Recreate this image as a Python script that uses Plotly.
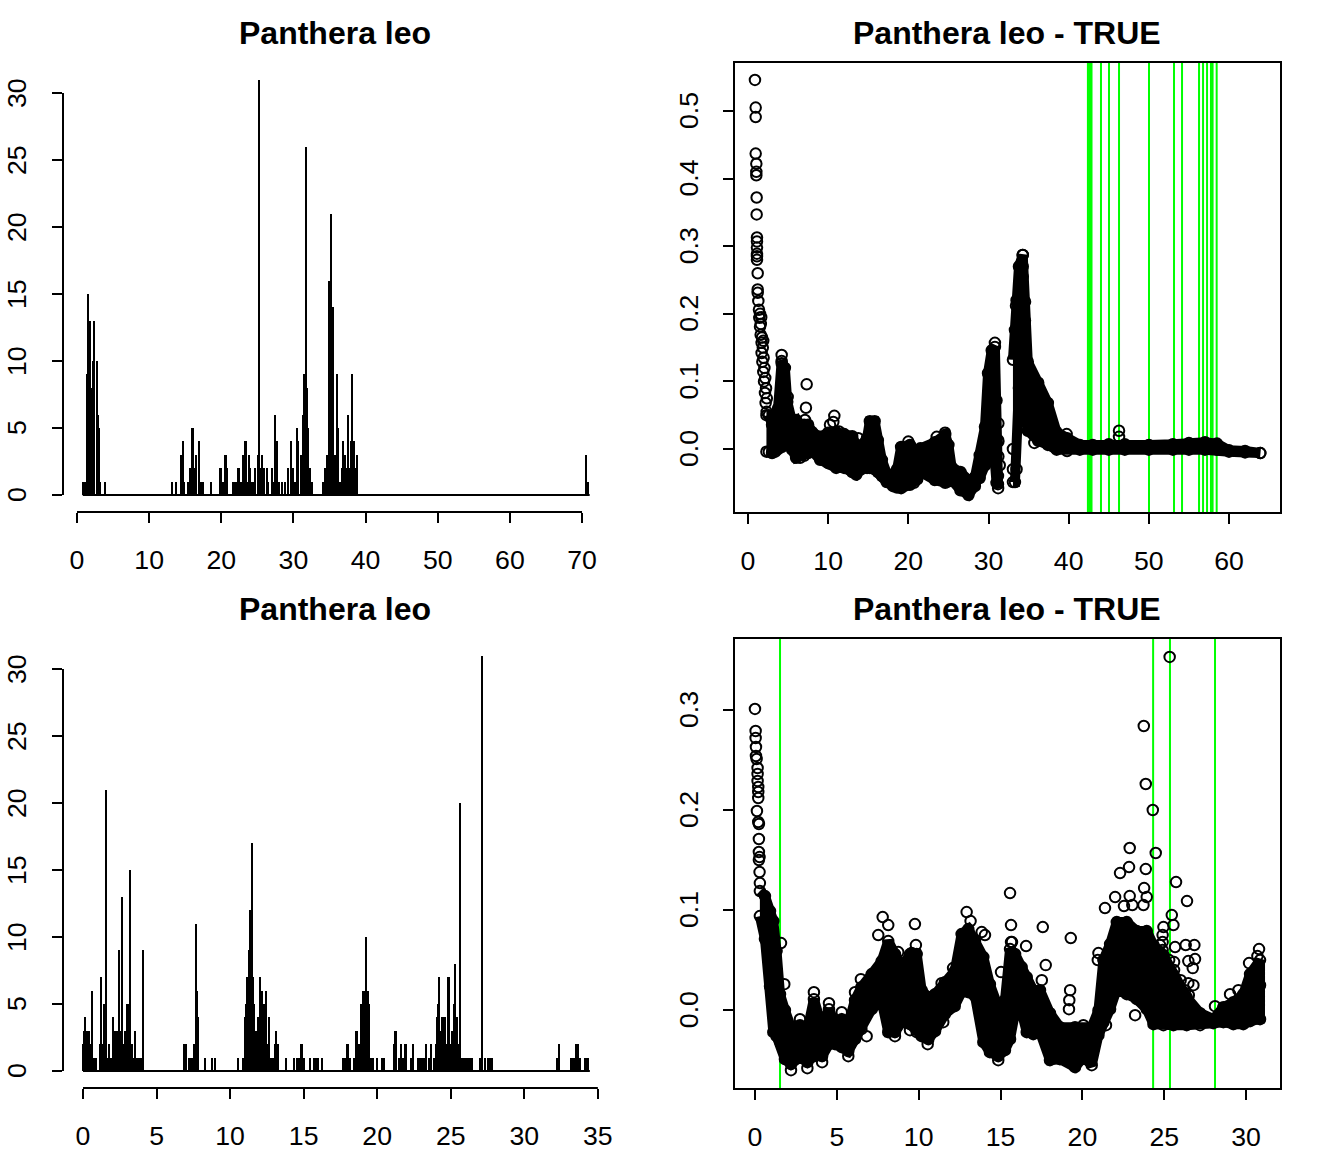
import plotly.graph_objects as go

# ---------- panel 1: spikes ----------
p1_x = [0.8,1.0,1.15,1.35,1.52,1.72,1.94,2.17,2.4,2.72,2.91,3.1,3.23,3.88,
        13.17,13.72,14.41,14.69,14.87,15.38,15.71,15.94,16.08,16.26,16.54,16.91,17.2,17.42,18.53,
        19.77,20.0,20.2,20.5,20.65,20.84,21.6,21.85,22.1,22.4,22.5,22.78,22.97,23.24,23.38,23.61,23.8,24.03,24.31,
        24.72,25.04,25.18,25.37,25.69,25.97,26.29,26.48,27.03,27.22,27.49,27.77,28.05,28.37,28.79,29.25,29.66,29.9,
        30.17,30.5,30.68,31.0,31.28,31.47,31.7,31.88,32.07,32.3,32.58,
        34.05,34.33,34.65,34.93,35.2,35.49,35.72,36.0,36.18,36.46,36.73,36.87,37.1,37.38,37.56,37.75,37.93,38.1,38.35,38.58,38.8,
        70.56,70.84]
p1_y = [1,1,1,9,15,13,8,10,13,10,6,5,1,1,
        1,1,3,4,1,1,2,5,5,2,3,4,1,1,1,
        2,2,1,3,3,2,1,1,1,2,2,1,3,4,4,1,3,2,1,
        2,3,31,2,3,2,2,1,2,1,6,4,1,1,1,2,4,2,
        1,5,4,3,6,9,26,8,5,2,1,
        1,2,3,16,21,14,3,9,5,1,2,4,3,2,6,2,4,9,4,2,3,
        3,1]

# ---------- panel 3: spikes ----------
p3_x = [0.0,0.05,0.14,0.2,0.29,0.41,0.5,0.61,0.7,0.84,0.91,1.16,1.22,1.31,1.43,1.56,1.65,1.77,1.93,2.04,2.13,2.24,2.33,
        2.45,2.54,2.65,2.74,2.86,2.99,3.1,3.2,3.31,3.42,3.53,3.65,3.78,3.9,3.97,4.08,
        6.87,7.0,7.21,7.34,7.43,7.55,7.68,7.75,7.84,8.29,8.77,8.97,10.54,
        10.9,10.99,11.08,11.15,11.26,11.38,11.49,11.58,11.65,11.74,11.85,11.92,12.03,12.17,12.28,12.42,12.55,12.67,12.78,12.89,13.05,13.14,13.23,
        13.78,14.34,14.53,14.68,14.86,15.0,15.43,15.7,15.84,15.98,16.23,
        17.65,17.81,17.92,18.04,18.15,18.42,18.56,18.65,18.79,18.9,19.01,19.15,19.26,19.35,19.44,19.58,19.71,19.96,20.33,20.46,
        21.12,21.25,21.48,21.62,21.75,21.93,
        22.3,22.43,22.77,22.91,23.05,23.18,23.32,23.52,23.66,23.86,24.0,24.07,24.13,24.22,24.34,24.43,24.54,24.61,24.75,24.84,24.95,25.06,25.15,25.22,25.31,25.4,25.49,
        25.63,25.76,25.9,26.04,26.17,26.31,26.44,26.99,27.12,27.33,27.53,27.67,27.8,
        32.22,32.36,33.17,33.31,33.38,33.51,33.65,33.79,34.13,34.26,34.35]
p3_y = [2,3,4,3,3,3,2,6,1,1,1,2,7,2,5,21,1,2,1,4,3,3,3,
        9,3,13,2,3,5,5,15,2,1,3,1,1,1,1,9,
        2,2,1,1,1,2,11,6,4,1,1,1,1,
        1,4,5,7,9,12,17,7,5,3,2,4,7,6,5,6,2,4,1,1,2,3,2,1,
        1,1,1,2,1,1,1,1,1,1,1,
        1,2,2,1,1,3,3,2,5,6,6,10,6,5,1,1,1,1,1,2,
        3,1,2,1,2,1,
        2,1,1,1,1,2,1,2,1,2,4,5,7,3,4,4,4,2,7,2,3,3,5,8,4,2,20,
        1,1,1,1,1,1,1,31,1,1,1,1,1,
        2,1,1,1,2,2,1,1,1,1,1]

# ---------- panel 2: dense parts of the cloud, upper and lower edge ----------
p2a_x = [2.3,2.6,3,3.4,3.75,4.2,4.6,4.9,5.5,6,6.5,7,7.5,8,9,10,11,12,13,13.5,14,14.85,15.2,15.8,16.2,16.7,17.3,18.1,18.6,19.1,20.2,20.7,21.1,21.5,23.3,24.6,25,25.4,26.5,27.5,28.3]
p2a_top = [.05,.05,.036,.04,.06,.13,.12,.07,.04,.043,.028,.036,.036,.025,.018,.024,.025,.022,.019,.006,.004,.016,.041,.041,.013,-.016,-.036,-.04,-.03,.003,.006,-.024,-.019,.001,.010,.021,.006,-.027,-.034,-.046,-.042]
p2a_bot = [-.004,-.004,-.006,-.004,0,.003,.013,.013,-.001,-.013,-.013,-.01,-.006,-.003,-.016,-.021,-.028,-.028,-.034,-.038,-.031,-.028,-.028,-.03,-.034,-.04,-.049,-.055,-.057,-.058,-.053,-.05,-.045,-.034,-.046,-.05,-.048,-.046,-.061,-.068,-.055]
p2b_x = [28.3,28.9,29.56,29.94,30.4,30.8,31.0,31.2]
p2b_top = [-.042,-.009,.033,.112,.146,.151,.072,.013]
p2b_bot = [-.05,-.043,-.024,-.009,-.016,-.02,-.05,-.058]
p2c_x = [33.05,33.3,33.5,33.8,34.27,34.55,34.9,36.2,37.4,38.5,39.8,41.4,43,45,47,50,53,55,57,58.5,60,62,63.9]
p2c_top = [.132,.176,.22,.27,.287,.19,.129,.098,.068,.025,.016,.006,.006,.007,.007,.006,.007,.009,.010,.008,-.002,-.003,-.006]
p2c_bot = [-.049,-.049,-.03,.09,.095,.08,.027,.012,.006,-.001,-.003,-.001,-.001,-.001,-.001,-.001,-.001,-.001,-.001,-.001,-.004,-.005,-.006]
# ---------- panel 2: separate points ----------
p2_pts_x = [0.87,0.96,0.96,0.96,1.04,1.04,1.04,1.08,1.08,1.12,1.12,1.12,1.12,1.12,1.12,1.21,1.21,1.21,1.29,1.37,1.41,1.5,1.58,1.7,1.7,1.79,1.91,2.0,2.12,2.2,2.33,
            1.5,1.6,1.65,1.75,1.85,1.9,1.95,2.05,2.15,2.25,2.35,
            4.2,4.2,4.4,4.4,4.0,4.95,7.32,7.23,7.11,10.77,10.64,10.23,11.35,13.76,
            39.75,46.28,46.28,34.27,34.27,34.27,34.27,34.15,33.43,34.56,34.0,34.0,33.8,24.58,23.54,30.8,31.23,31.23,31.23,31.4,35.72,20.0,31.18,31.18,33.05,33.05]
p2_pts_y = [.546,.505,.491,.437,.422,.41,.405,.372,.347,.313,.307,.298,.289,.285,.28,.26,.236,.231,.219,.206,.194,.181,.169,.157,.142,.129,.114,.1,.083,.068,.055,
            .2,.185,.195,.165,.15,.16,.135,.12,.105,.09,.075,
            .139,.127,.107,.09,.068,.077,.0957,.061,.043,.049,.04,.036,.026,.016,
            .022,.027,.018,.287,.27,.255,.238,.225,.212,.218,.191,.172,.142,.024,.018,.157,.038,.011,-.011,-.024,.009,.011,-.04,-.052,-.03,0.0]
p2_green = [42.4,42.55,42.7,42.85,44.03,45.03,46.28,50.02,53.14,54.14,56.26,56.76,57.26,57.75,57.95,58.46]

# ---------- panel 4: dense part of the cloud ----------
p4_band_x = [.3,.61,.92,1.12,1.32,1.53,1.83,2.2,2.75,3.2,3.6,4.1,4.52,4.9,5.3,5.7,6.11,6.5,7.13,7.74,8.14,8.55,8.96,9.47,9.88,10.18,10.59,11,11.6,12.2,12.62,13.03,13.44,13.95,14.35,14.86,
             15.27,15.58,15.89,16.29,16.6,17,17.41,18.02,18.63,19.55,20.06,20.57,20.98,21.28,21.69,22.1,22.71,23.32,23.93,24.34,24.95,25.56,26.37,27.19,28,28.61,29.22,29.83,30.24,30.85]
p4_band_top = [.119,.114,.099,.089,.059,.016,0,-.017,-.015,-.020,.011,-.017,.001,-.014,-.009,-.014,.010,.023,.036,.049,.069,.056,.043,.056,.056,.020,.013,.016,.028,.039,.076,.081,.069,.053,.026,.003,
               .01,.061,.056,.043,.033,.02,.02,-.003,-.017,-.017,-.015,-.017,-.0003,.05,.066,.088,.088,.079,.079,.065,.055,.035,.013,-.003,-.009,.003,.008,.016,.036,.05]
p4_band_bot = [.094,.071,.024,-.022,-.026,-.031,-.049,-.054,-.047,-.052,-.046,-.046,-.034,-.034,-.037,-.041,-.029,-.019,.001,.009,-.022,-.022,-.012,-.014,-.022,-.026,-.029,-.021,-.004,.004,.018,.018,.014,-.032,-.042,-.046,
               -.04,-.029,-.002,-.002,-.022,-.024,-.022,-.05,-.049,-.057,-.047,-.055,-.025,-.012,.001,.021,.016,.011,.001,-.014,-.015,-.015,-.015,-.015,-.013,-.012,-.014,-.014,-.011,-.009]
# ---------- panel 4: separate points ----------
p4_pts_x = [0.0,.04,.04,.06,.06,.1,.16,.16,.16,.2,.2,.2,.12,.2,.24,.24,.24,.28,.24,.28,.3,
            1.59,1.79,7.8,8.14,7.53,9.77,12.93,13.17,14.05,13.85,15.58,15.64,15.03,15.64,6.47,6.11,8.75,9.83,9.57,3.6,4.52,5.3,2.75,6.82,8.55,9.47,10.55,11.5,12.1,11.4,14.86,2.2,3.2,4.1,5.7,
            25.33,23.75,23.87,24.3,22.89,24.48,22.85,22.3,23.87,25.72,23.77,26.39,22.0,22.89,21.38,22.54,23.05,23.93,23.73,25.46,25.56,15.7,16.56,17.58,19.29,17.76,17.52,19.25,19.2,19.18,20.98,20.94,25.66,26.31,26.84,26.88,26.47,26.74,26.78,26.47,26.27,25.6,24.95,24.74,24.74,23.22,21.44,28.1,29.02,29.53,30.18,30.79,30.69,30.85,
            24.9,24.9,24.9,24.9,24.9,25.3,25.3,25.3,25.6,25.6,26.0,26.0,26.0,26.5]
p4_pts_y = [.301,.279,.272,.263,.254,.251,.242,.236,.229,.223,.218,.212,.199,.188,.186,.171,.158,.153,.15,.138,.127,
            .067,.026,.093,.085,.075,.086,.098,.089,.075,.078,.117,.085,.038,.068,.031,.018,.058,.065,.057,.018,.007,-.002,-.009,-.026,-.026,-.02,-.034,-.012,.042,.027,-.05,-.06,-.058,-.052,-.046,
            .353,.284,.226,.2,.162,.157,.143,.137,.141,.128,.122,.109,.113,.114,.102,.104,.105,.113,.105,.095,.085,.068,.064,.083,.072,.045,.03,.02,.01,.001,.057,.05,.063,.065,.065,.051,.049,.042,.025,.027,.02,.048,.083,.065,.049,-.005,-.015,.004,.016,.02,.047,.061,.054,.025,
            .075,.068,.06,.053,.045,.05,.04,.03,.04,.03,.03,.02,.01,.015]
p4_green = [1.53,24.32,25.35,28.1]

# ---------- text and ticks ----------
title_plain = "Panthera leo"
title_true = "Panthera leo - TRUE"
p1_xticks = [0,10,20,30,40,50,60,70]
p3_xticks = [0,5,10,15,20,25,30,35]
count_ticks = [0,5,10,15,20,25,30]
p2_xticks = [0,10,20,30,40,50,60]
p2_yticks = [0.0,0.1,0.2,0.3,0.4,0.5]
p4_xticks = [0,5,10,15,20,25,30]
p4_yticks = [0.0,0.1,0.2,0.3]

W, H = 1344, 1152
FONT = "Liberation Sans"
TICK = 26.67
L_DOM = [63/W, 608/W]
R_DOM = [735/W, 1280/W]
T_DOM = [1-512/H, 1-63/H]
B_DOM = [1-1088/H, 1-639/H]

fig = go.Figure()

def spike(x, y, width, xa, ya):
    fig.add_trace(go.Scatter(x=[min(x), max(x)+0.1*width/0.14], y=[0, 0], mode="lines",
                             line=dict(color="black", width=2), xaxis=xa, yaxis=ya, showlegend=False))
    fig.add_trace(go.Bar(x=x, y=y, width=width, marker=dict(color="black", line=dict(width=0)),
                         xaxis=xa, yaxis=ya, showlegend=False))

def cloud(lobes, px, py, xa, ya):
    for bx, top, bot in lobes:
        fig.add_trace(go.Scatter(x=bx + bx[::-1], y=top + bot[::-1], mode="lines", fill="toself",
                                 fillcolor="black", line=dict(color="black", width=10),
                                 xaxis=xa, yaxis=ya, showlegend=False))
    ex, ey = list(px), list(py)
    for bx, top, bot in lobes:
        ex += bx + bx
        ey += top + bot
    fig.add_trace(go.Scatter(x=ex, y=ey, mode="markers",
                             marker=dict(symbol="circle-open", size=10.5, color="black", line=dict(width=2)),
                             xaxis=xa, yaxis=ya, showlegend=False))

spike(p1_x, p1_y, 0.31, "x", "y")
cloud([(p2a_x, p2a_top, p2a_bot), (p2b_x, p2b_top, p2b_bot), (p2c_x, p2c_top, p2c_bot)],
      p2_pts_x, p2_pts_y, "x2", "y2")
spike(p3_x, p3_y, 0.15, "x3", "y3")
cloud([(p4_band_x, p4_band_top, p4_band_bot)], p4_pts_x, p4_pts_y, "x4", "y4")

def xax(dom, rng, ticks, anchor, box):
    return dict(domain=dom, range=rng, tickvals=ticks, ticktext=[str(t) for t in ticks], anchor=anchor,
                showgrid=False, zeroline=False, ticks="outside", ticklen=10, tickwidth=2, tickcolor="black",
                tickfont=dict(family=FONT, size=TICK, color="black"), tickangle=0, ticklabelstandoff=14,
                showline=box, mirror=box, linecolor="black", linewidth=2)

def yax(dom, rng, ticks, anchor, box):
    return dict(domain=dom, range=rng, tickvals=ticks, anchor=anchor, showticklabels=False,
                showgrid=False, zeroline=False, ticks="outside", ticklen=10, tickwidth=2, tickcolor="black",
                showline=box, mirror=box, linecolor="black", linewidth=2)

shapes = []
def r_axis(ticks_x, ticks_y, xr, yr):
    shapes.append(dict(type="line", xref=xr, yref=yr + " domain", x0=ticks_x[0], x1=ticks_x[-1], y0=0, y1=0,
                       line=dict(color="black", width=2)))
    shapes.append(dict(type="line", xref=xr + " domain", yref=yr, x0=0, x1=0, y0=ticks_y[0], y1=ticks_y[-1],
                       line=dict(color="black", width=2)))
r_axis(p1_xticks, count_ticks, "x", "y")
r_axis(p3_xticks, count_ticks, "x3", "y3")

for g in p2_green:
    shapes.append(dict(type="line", xref="x2", yref="y2 domain", x0=g, x1=g, y0=0, y1=1, layer="below",
                       line=dict(color="#00FF00", width=2)))
for g in p4_green:
    shapes.append(dict(type="line", xref="x4", yref="y4 domain", x0=g, x1=g, y0=0, y1=1, layer="below",
                       line=dict(color="#00FF00", width=2)))

def title(text, cx, top):
    return dict(text="<b>%s</b>" % text, xref="paper", yref="paper", x=cx/W, y=1-top/H, showarrow=False,
                xanchor="center", yanchor="middle", font=dict(family=FONT, size=32, color="black"))

def ylabels(ticks, labels, yr, cx):
    return [dict(text=lab, xref="paper", yref=yr, x=cx/W, y=t, showarrow=False, textangle=-90,
                 xanchor="center", yanchor="middle", font=dict(family=FONT, size=TICK, color="black"))
            for t, lab in zip(ticks, labels)]

annotations = [title(title_plain, 335, 33), title(title_true, 1007, 33),
               title(title_plain, 335, 609), title(title_true, 1007, 609)]
annotations += ylabels(count_ticks, [str(t) for t in count_ticks], "y", 17)
annotations += ylabels(count_ticks, [str(t) for t in count_ticks], "y3", 17)
annotations += ylabels(p2_yticks, ["%.1f" % t for t in p2_yticks], "y2", 689)
annotations += ylabels(p4_yticks, ["%.1f" % t for t in p4_yticks], "y4", 689)

fig.update_layout(
    width=W, height=H, margin=dict(l=0, r=0, t=0, b=0, autoexpand=False), autosize=False,
    paper_bgcolor="white", plot_bgcolor="rgba(0,0,0,0)", showlegend=False, barmode="overlay", bargap=0,
    xaxis=xax(L_DOM, [-1.94, 73.6], p1_xticks, "y", False),
    yaxis=yax(T_DOM, [-1.27, 32.24], count_ticks, "x", False),
    xaxis2=xax(R_DOM, [-1.62, 66.36], p2_xticks, "y2", True),
    yaxis2=yax(T_DOM, [-0.0932, 0.5710], p2_yticks, "x2", True),
    xaxis3=xax(L_DOM, [-1.36, 35.69], p3_xticks, "y3", False),
    yaxis3=yax(B_DOM, [-1.27, 32.24], count_ticks, "x3", False),
    xaxis4=xax(R_DOM, [-1.22, 32.07], p4_xticks, "y4", True),
    yaxis4=yax(B_DOM, [-0.0778, 0.3709], p4_yticks, "x4", True),
    shapes=shapes,
    annotations=annotations,
)

fig.write_html("out.html", config={"displayModeBar": False},
               post_script="document.body.style.margin='0';")
